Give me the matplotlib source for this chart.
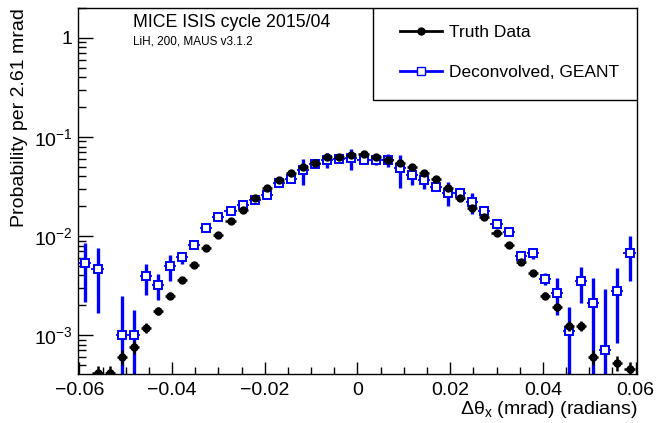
import numpy as np
import matplotlib.pyplot as plt
from matplotlib.lines import Line2D
from matplotlib.patches import Rectangle
from matplotlib.ticker import LogLocator, MultipleLocator, FuncFormatter, NullFormatter

plt.rcParams['font.family'] = ['Liberation Sans', 'DejaVu Sans']
plt.rcParams['mathtext.fontset'] = 'custom'
plt.rcParams['mathtext.rm'] = 'Liberation Sans'
plt.rcParams['mathtext.it'] = 'Liberation Sans:italic'

# 46 bins of 2.61 mrad over [-0.06, 0.06]
n_bins = 46
x_lo, x_hi = -0.06, 0.06
nan = np.nan

truth = [nan, 4.1e-4, 4.1e-4, 6.0e-4, 7.6e-4, 1.19e-3, 1.75e-3, 2.5e-3, 3.6e-3, 5.1e-3,
         7.6e-3, 1.02e-2, 1.43e-2, 1.83e-2, 2.4e-2, 3.03e-2, 3.68e-2, 4.3e-2, 5.0e-2, 5.5e-2,
         6.2e-2, 6.3e-2, 6.5e-2, 6.8e-2, 6.3e-2, 5.8e-2, 5.4e-2, 5.0e-2, 4.3e-2, 3.8e-2,
         3.03e-2, 2.4e-2, 1.9e-2, 1.57e-2, 1.06e-2, 8.1e-3, 5.5e-3, 4.2e-3, 2.5e-3, 1.93e-3,
         1.23e-3, 1.23e-3, 6.0e-4, nan, 5.2e-4, 4.5e-4]
truth_err = [nan, 8e-5, 8e-5, 1.0e-4, 1.1e-4, 1.4e-4, 1.7e-4, 2.0e-4, 2.4e-4, 2.9e-4,
             3.5e-4, 4.1e-4, 4.8e-4, 5.5e-4, 6.3e-4, 7.0e-4, 7.7e-4, 8.4e-4, 9.0e-4, 9.5e-4,
             1.0e-3, 1.0e-3, 1.0e-3, 1.0e-3, 1.0e-3, 9.5e-4, 9.2e-4, 9.0e-4, 8.4e-4, 7.9e-4,
             7.0e-4, 6.3e-4, 5.6e-4, 5.1e-4, 4.2e-4, 3.7e-4, 3.0e-4, 2.7e-4, 2.0e-4, 1.8e-4,
             1.4e-4, 1.4e-4, 1.0e-4, nan, 9e-5, 8.5e-5]

deconv = [5.37e-3, 4.6e-3, nan, 1.0e-3, 1.0e-3, 3.9e-3, 3.2e-3, 5.0e-3, 6.1e-3, 8.1e-3,
          1.21e-2, 1.55e-2, 1.79e-2, 2.06e-2, 2.3e-2, 2.6e-2, 3.45e-2, 3.77e-2, 4.6e-2, 5.3e-2,
          5.9e-2, 6.0e-2, 6.1e-2, 5.9e-2, 5.9e-2, 5.9e-2, 4.8e-2, 4.1e-2, 3.7e-2, 3.15e-2,
          2.74e-2, 2.74e-2, 2.2e-2, 1.8e-2, 1.32e-2, 1.1e-2, 6.3e-3, 6.7e-3, 3.7e-3, 2.68e-3,
          1.1e-3, 3.5e-3, 2.1e-3, 7.1e-4, 2.8e-3, 6.7e-3]
deconv_err = [3.2e-3, 2.95e-3, nan, 1.5e-3, 8.0e-4, 1.35e-3, 9.5e-4, 1.5e-3, 8.5e-4, 7e-4,
              8e-4, 9e-4, 1.0e-3, 1.2e-3, 1.5e-3, 1.5e-3, 2.0e-3, 2.5e-3, 1.35e-2, 3e-3,
              1.0e-2, 3e-3, 1.5e-2, 3e-3, 7.5e-3, 9e-3, 1.75e-2, 8e-3, 7e-3, 3e-3,
              7.5e-3, 2e-3, 5.3e-3, 1.5e-3, 1.2e-3, 1.0e-3, 7e-4, 9e-4, 5e-4, 1.1e-3,
              8e-4, 1.4e-3, 1.7e-3, 2.2e-3, 1.97e-3, 3.2e-3]

width = (x_hi - x_lo) / n_bins
centers = x_lo + width * (np.arange(n_bins) + 0.5)
truth = np.array(truth)
deconv = np.array(deconv)

blue = '#0000ff'

fig = plt.figure(figsize=(6.58, 4.23), dpi=100)
ax = fig.add_axes([0.1185, 0.1158, 0.8495, 0.8652])

# deconvolved: thick vertical errors, thin short horizontal ones
ax.errorbar(centers, deconv, xerr=width * 0.5, fmt='none', ecolor=blue,
            elinewidth=1.3, capsize=0, zorder=2)
ax.errorbar(centers, deconv, yerr=deconv_err, fmt='s', ms=6, mfc='white',
            mec=blue, mew=1.4, ecolor=blue, elinewidth=2.4, capsize=0, zorder=2)
# truth
ax.errorbar(centers, truth, yerr=truth_err, xerr=width * 0.42, fmt='o',
            ms=5, color='black', ecolor='black', elinewidth=1.8, capsize=0,
            zorder=3)

ax.set_yscale('log')
ax.set_xlim(-0.0603, 0.0603)
ax.set_ylim(4.04e-4, 2.0)

ax.xaxis.set_major_locator(MultipleLocator(0.02))
ax.xaxis.set_minor_locator(MultipleLocator(0.005))
ax.xaxis.set_major_formatter(FuncFormatter(
    lambda v, p: '0' if abs(v) < 1e-9 else f'{v:.2f}'.replace('-', '\u2212')))
ax.yaxis.set_major_locator(LogLocator(base=10, numticks=10))
ax.yaxis.set_minor_locator(LogLocator(base=10, subs=np.arange(2, 10), numticks=20))
ax.yaxis.set_minor_formatter(NullFormatter())
ax.yaxis.set_major_formatter(FuncFormatter(
    lambda v, p: '1' if abs(v - 1) < 1e-9 else r'$10^{%d}$' % round(np.log10(v))))

ax.tick_params(which='both', direction='in', top=False, right=False, labelsize=14)
ax.tick_params(axis='x', which='major', length=9, width=1, pad=6)
ax.tick_params(axis='x', which='minor', length=5, width=1)
ax.tick_params(axis='y', which='major', length=11, width=1, pad=4)
ax.tick_params(axis='y', which='minor', length=6, width=1)
for s in ax.spines.values():
    s.set_linewidth(1)

ax.set_ylabel('Probability per 2.61 mrad', fontsize=14, loc='top')
ax.yaxis.set_label_coords(-0.09, 1.0)
ax.set_xlabel('\u0394\u03b8$_{\\mathrm{x}}$ (mrad) (radians)', fontsize=14, loc='right')
ax.xaxis.set_label_coords(1.0, -0.068)
ax.xaxis.label.set_va('top')

fig.text(0.202, 1 - 27 / 423, 'MICE ISIS cycle 2015/04', fontsize=12.8, va='baseline')
fig.text(0.202, 1 - 45 / 423, 'LiH, 200, MAUS v3.1.2', fontsize=8.5, va='baseline')

# legend box
ax.add_patch(Rectangle((0.528, 0.749), 0.472, 0.251, transform=ax.transAxes,
                       facecolor='white', edgecolor='black', lw=1, zorder=4))
handles = [
    Line2D([0], [0], color='black', lw=2, marker='o', ms=5),
    Line2D([0], [0], color=blue, lw=2, marker='s', ms=5.5, mfc='white', mec=blue),
]
ax.legend(handles, ['Truth Data', 'Deconvolved, GEANT'], loc='upper left',
          bbox_to_anchor=(0.576, 0.954), frameon=False, fontsize=12.5,
          borderpad=0, borderaxespad=0, handlelength=2.4, handletextpad=0.4,
          labelspacing=1.45)

fig.savefig('out.png', dpi=100)
